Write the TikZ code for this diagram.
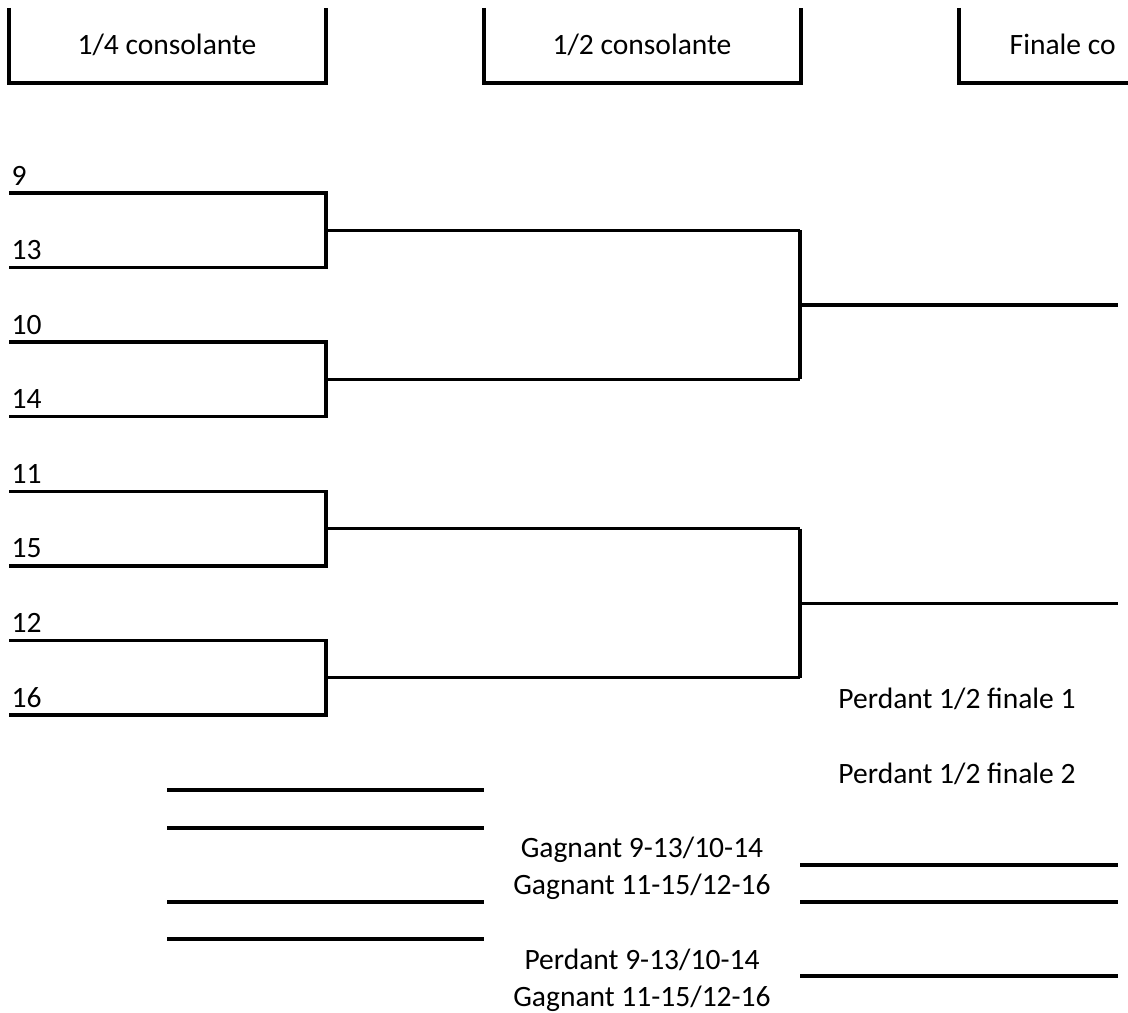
\documentclass[tikz,border=0pt]{standalone}
\usepackage{fontspec}
\setmainfont{Carlito}
\usetikzlibrary{positioning}

\begin{document}
\begin{tikzpicture}[x=0.025cm, y=-0.025cm, line width=2.4pt,
  lbl/.style={inner sep=0pt, font=\fontsize{21}{25}\selectfont}]
\useasboundingbox (0,0) rectangle (1128,1012);

%En-tetes
\foreach \name/\x/\txt in {quart/9/{1/4 consolante}, demi/484/{1/2 consolante}, fin/959/{Finale consolante}} {
  \coordinate (\name a) at (\x, 8);
  \coordinate (\name b) at (\x, 83);
  \coordinate (\name c) at (\x+317, 83);
  \coordinate (\name d) at (\x+317, 8);
  \draw (\name a) -- (\name b) -- (\name c) -- (\name d);
}
\node[lbl, anchor=base] (tquart) at (167, 55) {1/4 consolante};
\node[lbl, anchor=base] (tdemi) at (642, 55) {1/2 consolante};
\node[lbl, anchor=base west] (tfin) at (1008, 55) {Finale co};

%1/4 consolante
\foreach \i/\lab in {0/9,1/13,2/10,3/14,4/11,5/15,6/12,7/16} {
  \coordinate (e\i) at (9, 193+74.57*\i);
  \coordinate (f\i) at (326, 193+74.57*\i);
  \node[lbl, anchor=base west] (n\lab) at (10, 185+74.57*\i) {\lab};
}
\foreach \j [evaluate=\j as \a using int(2*\j), evaluate=\j as \b using int(2*\j+1)] in {0,1,2,3} {
  \draw (e\a) -- (f\a) -- (f\b) -- (e\b);
  \coordinate (g\j) at (326, 230.3+149.14*\j);
  \coordinate (h\j) at (800, 230.3+149.14*\j);
  \draw (g\j) -- (h\j);
}

%1/2 consolante
\foreach \k [evaluate=\k as \a using int(2*\k), evaluate=\k as \b using int(2*\k+1)] in {0,1} {
  \draw (h\a) -- (h\b);
  \coordinate (p\k) at (800, 305+298.3*\k);
  \coordinate (q\k) at (1118, 305+298.3*\k);
  \draw (p\k) -- (q\k);
}

%Places 5 a 8
\foreach \y [count=\c] in {790, 828, 902, 939} {
  \coordinate (u\c) at (167, \y);
  \coordinate (v\c) at (484, \y);
  \draw (u\c) -- (v\c);
}
\foreach \y [count=\c] in {865, 902, 976} {
  \coordinate (s\c) at (800, \y);
  \coordinate (t\c) at (1118, \y);
  \draw (s\c) -- (t\c);
}

\node[lbl, anchor=base] (pf1) at (957, 708) {Perdant 1/2 finale 1};
\node[lbl, anchor=base] (pf2) at (957, 783) {Perdant 1/2 finale 2};
\node[lbl, anchor=base] (ga1) at (642, 857) {Gagnant 9-13/10-14};
\node[lbl, anchor=base] (ga2) at (642, 894) {Gagnant 11-15/12-16};
\node[lbl, anchor=base] (pe1) at (642, 969) {Perdant 9-13/10-14};
\node[lbl, anchor=base] (ga3) at (642, 1006) {Gagnant 11-15/12-16};
\end{tikzpicture}
\end{document}
